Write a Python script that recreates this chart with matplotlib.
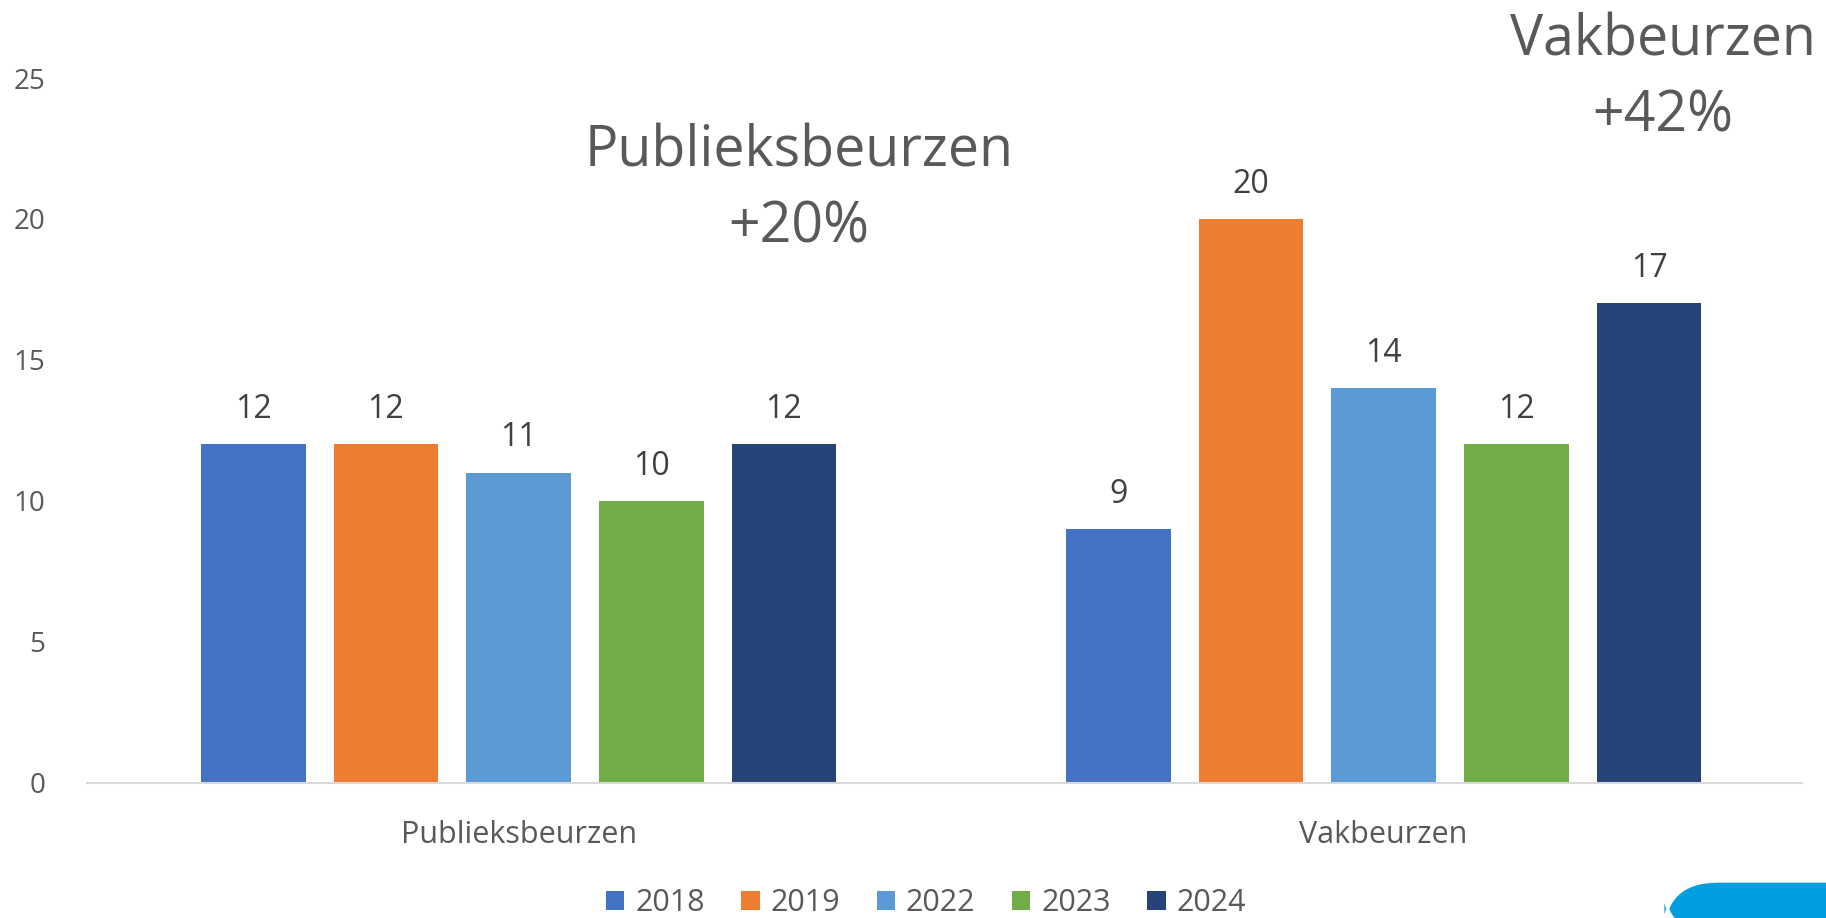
import matplotlib.pyplot as plt
import numpy as np
from matplotlib.patches import FancyBboxPatch

categories = ["Publieksbeurzen", "Vakbeurzen"]
years = ["2018", "2019", "2022", "2023", "2024"]
values = {
    "2018": [12, 9],
    "2019": [12, 20],
    "2022": [11, 14],
    "2023": [10, 12],
    "2024": [12, 17],
}
growth_labels = ["Publieksbeurzen\n+20%", "Vakbeurzen\n+42%"]
colors = ["#4472C4", "#ED7D31", "#5B9BD5", "#70AD47", "#264478"]

plt.rcParams["font.family"] = ["Open Sans", "DejaVu Sans"]

fig = plt.figure(figsize=(18.26, 9.18), dpi=100)
ax = fig.add_axes([0.0476, 0.1475, 0.9394, 0.7675])

x = np.arange(len(categories))
step = 0.1534
width = 0.121
for i, (yr, col) in enumerate(zip(years, colors)):
    pos = x + (i - 2) * step
    bars = ax.bar(pos, values[yr], width=width, color=col, label=yr, zorder=2)
    for b, v in zip(bars, values[yr]):
        ax.annotate(str(v), (b.get_x() + b.get_width() / 2, v),
                    xytext=(0, 25), textcoords="offset points",
                    ha="center", va="center", fontsize=23, color="#404040")

ax.set_xlim(-0.499, 1.484)
ax.set_ylim(0, 25)
ax.set_yticks([0, 5, 10, 15, 20, 25])
ax.set_xticks(x)
ax.set_xticklabels(categories)
ax.tick_params(axis="y", length=0, pad=30, labelsize=20, labelcolor="#595959")
ax.tick_params(axis="x", length=0, pad=27, labelsize=22, labelcolor="#595959")
for s in ["top", "right", "left"]:
    ax.spines[s].set_visible(False)
ax.spines["bottom"].set_color("#D9D9D9")
ax.spines["bottom"].set_linewidth(1.5)

# growth annotations
fig.text(799 / 1826, 1 - 190 / 918, growth_labels[0], ha="center", va="center",
         fontsize=40, color="#595959", linespacing=1.45)
fig.text(1663 / 1826, 1 - 79 / 918, growth_labels[1], ha="center", va="center",
         fontsize=40, color="#595959", linespacing=1.45)

leg = fig.legend(loc="center", bbox_to_anchor=(926 / 1826, 1 - 903 / 918), ncol=5,
                 frameon=False, fontsize=22, handlelength=0.6, handleheight=0.6,
                 handletextpad=0.35, columnspacing=1.2)
for t in leg.get_texts():
    t.set_color("#595959")

# logo fragment bottom right
logo = FancyBboxPatch((1663 / 1826, -0.02), 0.2, 0.06,
                      boxstyle="round,pad=0,rounding_size=0.03",
                      transform=fig.transFigure, facecolor="#00A0E0",
                      edgecolor="white", linewidth=2, mutation_aspect=2)
fig.patches.append(logo)

fig.savefig("out.png", dpi=100)
